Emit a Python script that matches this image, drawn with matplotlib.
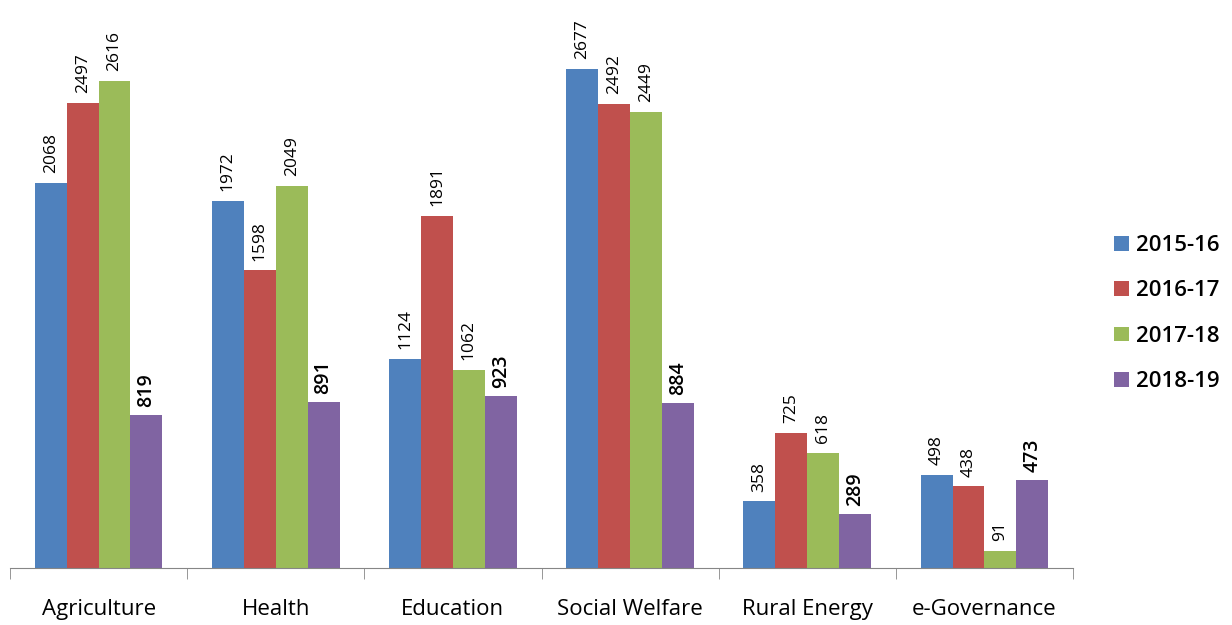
import numpy as np
import matplotlib
matplotlib.use("Agg")
from matplotlib import pyplot as plt

# data
categories = ["Agriculture", "Health", "Education", "Social Welfare", "Rural Energy", "e-Governance"]
years = ["2015-16", "2016-17", "2017-18", "2018-19"]
v2015 = [2068, 1972, 1124, 2677, 358, 498]
v2016 = [2497, 1598, 1891, 2492, 725, 438]
v2017 = [2616, 2049, 1062, 2449, 618, 91]
v2018 = [819, 891, 923, 884, 289, 473]
colors = ["#4F81BD", "#C0504D", "#9BBB59", "#8064A2"]

plt.rcParams['font.family'] = ['Open Sans', 'DejaVu Sans']

fig = plt.figure(figsize=(12.32, 6.25), dpi=100)
ax = fig.add_axes([10/1232, 57/625, 1063/1232, 559/625])

x = np.arange(len(categories))
width = 0.18
series = [v2015, v2016, v2017, v2018]

for i, vals in enumerate(series):
    pos = x + (i - 1.5) * width
    bars = ax.bar(pos, vals, width, color=colors[i], label=years[i])
    for b, v in zip(bars, vals):
        if i == 3:
            # last year's labels are bigger and heavier
            ax.annotate(str(v), (b.get_x() + b.get_width()/2, v), xytext=(0, 6),
                        textcoords="offset points", rotation=90, ha="center", va="bottom",
                        fontsize=14, fontweight="semibold")
        else:
            ax.annotate(str(v), (b.get_x() + b.get_width()/2, v), xytext=(0, 7),
                        textcoords="offset points", rotation=90, ha="center", va="bottom",
                        fontsize=12.5)

ax.set_xlim(-0.5, len(categories) - 0.5)
ax.set_ylim(0, 3000)
ax.set_yticks([])
for s in ["top", "right", "left"]:
    ax.spines[s].set_visible(False)
ax.spines["bottom"].set_color("#868686")

ax.set_xticks(x)
ax.set_xticklabels(categories, fontsize=16)
ax.tick_params(axis="x", which="major", length=0, pad=22)
ax.set_xticks(np.arange(len(categories) + 1) - 0.5, minor=True)
ax.tick_params(axis="x", which="minor", length=8, color="#868686")

leg = ax.legend(loc="center left", bbox_to_anchor=(1.02, 0.455), frameon=False,
                prop={"size": 16, "weight": "semibold"}, handlelength=0.65, handleheight=0.65,
                labelspacing=1.1, handletextpad=0.35)

fig.savefig("out.png", dpi=100)
